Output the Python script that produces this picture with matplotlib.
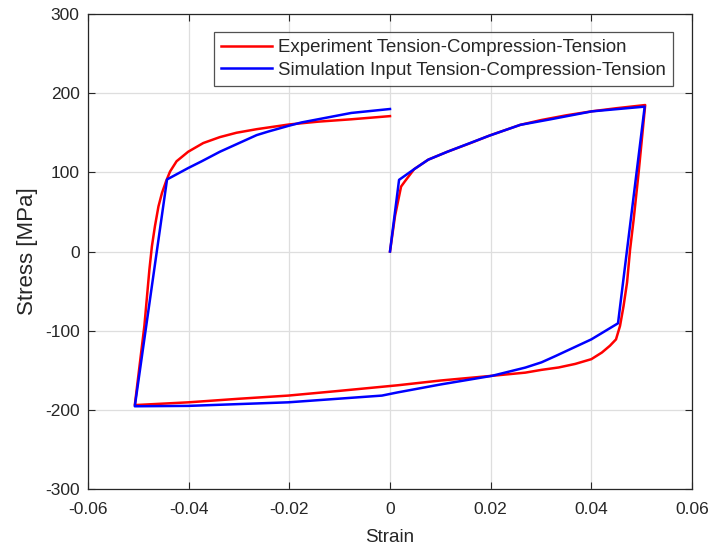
import matplotlib
matplotlib.use('Agg')
import matplotlib.pyplot as plt

plt.rcParams['font.family'] = ['Liberation Sans', 'DejaVu Sans']
plt.rcParams['axes.unicode_minus'] = False

# Experiment: tension -> compression -> tension back to zero strain
exp_strain = [0.0, 0.0010, 0.0022, 0.0030, 0.0048, 0.0076, 0.0114, 0.0160, 0.0200,
              0.0259, 0.0300, 0.0350, 0.0400, 0.0450, 0.0507,
              0.0494, 0.0484, 0.0477, 0.0471, 0.0464, 0.0457, 0.0449, 0.0437,
              0.0421, 0.0400, 0.0368, 0.0335, 0.0301, 0.0269, 0.0203, 0.0100, 0.0015,
              -0.0100, -0.0202, -0.0300, -0.0400, -0.0507,
              -0.0488, -0.0478, -0.0473, -0.0467, -0.0460, -0.0453, -0.0445, -0.0437,
              -0.0424, -0.0401, -0.0371, -0.0338, -0.0305, -0.0265, -0.0200, -0.0143,
              -0.0077, 0.0]
exp_stress = [0, 45, 82, 89, 104, 116, 126, 137, 147,
              160, 166, 172, 177, 181, 185,
              100, 40, 2.5, -39, -69, -94, -111, -119,
              -127.6, -136, -142, -146.5, -149.5, -153, -157, -163, -169,
              -176, -182, -186, -190.5, -194,
              -94, -22.7, 6.7, 32, 57, 74, 88.5, 101,
              114, 126, 137, 144.5, 150, 154.5, 160.5, 164,
              167, 171]

# Simulation input
sim_strain = [0.0, 0.0018, 0.0048, 0.0076, 0.0114, 0.0196, 0.0259, 0.0319, 0.0401, 0.0506,
              0.0453, 0.0400, 0.0329, 0.0301, 0.0269, 0.0203, 0.0100, 0.0015, -0.0016,
              -0.0202, -0.0400, -0.0507,
              -0.0443, -0.0401, -0.0374, -0.0338, -0.0265, -0.0242, -0.0200, -0.0176,
              -0.0143, -0.0077, 0.0]
sim_stress = [0, 90.5, 104, 116, 126, 146, 160, 167, 177, 183,
              -90.7, -111, -132, -140, -146.6, -157, -168, -178, -182,
              -190.5, -195, -195.5,
              91, 105.4, 114, 126, 147, 151.5, 159, 163,
              167, 175, 180]

xticks = [-0.06, -0.04, -0.02, 0, 0.02, 0.04, 0.06]
xticklabels = ['-0.06', '-0.04', '-0.02', '0', '0.02', '0.04', '0.06']
yticks = [-300, -200, -100, 0, 100, 200, 300]

dark = (0.15, 0.15, 0.15)

fig = plt.figure(figsize=(7.1, 5.5), dpi=100)
ax = fig.add_axes([88 / 710, 61 / 550, 604 / 710, 475 / 550])

ax.plot(exp_strain, exp_stress, color=(1, 0, 0), lw=1.8,
        label='Experiment Tension-Compression-Tension')
ax.plot(sim_strain, sim_stress, color=(0, 0, 1), lw=1.8,
        label='Simulation Input Tension-Compression-Tension')

ax.set_xlim(-0.06, 0.06)
ax.set_ylim(-300, 300)
ax.set_xticks(xticks)
ax.set_xticklabels(xticklabels)
ax.set_yticks(yticks)
ax.grid(True, color=(0.87, 0.87, 0.87), lw=0.9)
ax.set_axisbelow(True)
ax.tick_params(direction='in', length=5, width=0.8, colors=dark, labelsize=12.5,
               top=True, right=True, pad=6)
ax.tick_params(axis='x', pad=9)
for s in ax.spines.values():
    s.set_color(dark)
    s.set_linewidth(0.9)

ax.set_xlabel('Strain', fontsize=13.5, color=dark, labelpad=9)
ax.set_ylabel('Stress [MPa]', fontsize=16, color=dark, labelpad=5)

leg = ax.legend(loc='upper right', bbox_to_anchor=(673 / 710, 1 - 32 / 550),
                bbox_transform=fig.transFigure, fontsize=13.4, frameon=True,
                fancybox=False, edgecolor=dark, handlelength=2.75,
                handletextpad=0.32, borderpad=0.38, labelspacing=0.3,
                borderaxespad=0)
leg.get_frame().set_linewidth(0.9)
for t in leg.get_texts():
    t.set_color(dark)

fig.savefig('out.png', dpi=100)
